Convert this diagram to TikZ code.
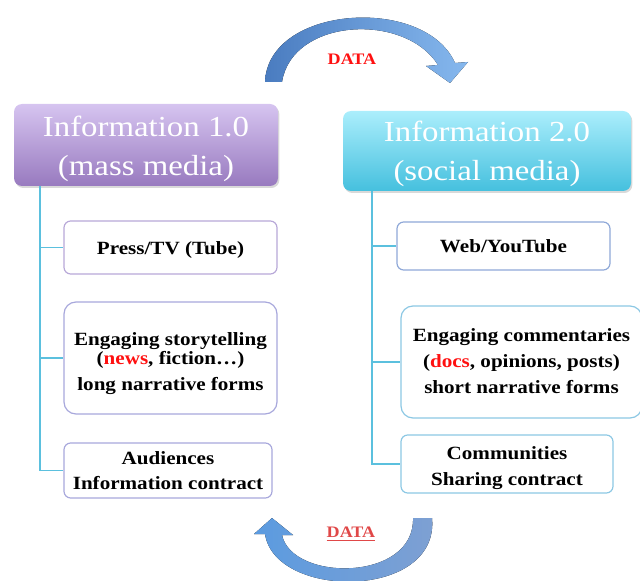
\documentclass[tikz,border=0pt]{standalone}
\usepackage{fontspec}
\setmainfont{Liberation Serif}[FakeStretch=1.13]
\usetikzlibrary{shadows}
\definecolor{lnk}{HTML}{5BC0DE}
\definecolor{purT}{HTML}{D6C4F0}
\definecolor{purB}{HTML}{987ABF}
\definecolor{cyaT}{HTML}{ABEEFC}
\definecolor{cyaB}{HTML}{45C0DE}
\definecolor{bdP}{HTML}{B8A8D8}
\definecolor{bdV}{HTML}{A8A8DC}
\definecolor{bdB}{HTML}{8FA8D8}
\definecolor{bdC}{HTML}{8CC8E4}
\definecolor{arrD}{HTML}{4A7CC0}
\definecolor{arrL}{HTML}{86B8EE}
\definecolor{arrM}{HTML}{5B9BE0}
\definecolor{arrR}{HTML}{7FA0D2}
\definecolor{hot}{HTML}{FF1010}
\definecolor{dat2}{HTML}{E04848}
\newcommand\lowtext[2]{\raisebox{-#1}[\height][\depth]{\begin{tabular}{@{}c@{}}#2\end{tabular}}}
\tikzset{
  header/.style={rounded corners=6pt, inner sep=0pt, text=white,
    font=\fontsize{21.8}{29.25}\selectfont,
    drop shadow={shadow xshift=1pt, shadow yshift=-1.5pt, opacity=.3}},
  item/.style={draw, fill=white, rounded corners=5pt, inner sep=0pt, line width=0.9pt,
    align=center, font=\fontsize{14}{19.5}\selectfont\bfseries},
  link/.style={draw=lnk, line width=0.9pt},
  datalbl/.style={font=\fontsize{12}{14}\selectfont\bfseries}
}
\begin{document}
\begin{tikzpicture}[x=0.75pt, y=-0.75pt]
\useasboundingbox (0,0) rectangle (640,581);

% top arc
\fill[left color=arrD, right color=arrL]
  (265,82) .. controls (268,5) and (425,-5) .. (455,63)
  -- (468,62) -- (450,83) -- (426,66) -- (438,65)
  .. controls (405,12) and (292,18) .. (282,82) -- cycle;
\node[datalbl, text=hot] (d1) at (352,59) {DATA};

% bottom arc
\fill[left color=arrM, right color=arrR]
  (432,518) .. controls (440,600) and (275,600) .. (265,534)
  -- (254,534) -- (272,518) -- (293,535) -- (282,535)
  .. controls (292,582) and (415,582) .. (413,518) -- cycle;
\node[datalbl, text=dat2] (d2) at (351,534) {\underline{DATA}};

% headers
\node[header, top color=purT, bottom color=purB, minimum width=198pt, minimum height=61.5pt]
  (hl) at (146,145) {\lowtext{2.5pt}{Information 1.0\\(mass media)}};
\node[header, top color=cyaT, bottom color=cyaB, minimum width=216pt, minimum height=60pt]
  (hr) at (487,151) {\lowtext{2pt}{Information 2.0\\(social media)}};

% left items
\node[item, draw=bdP, minimum width=159.75pt, minimum height=39.75pt] (l1) at (170.5,247.5)
  {\lowtext{1.5pt}{Press/TV (Tube)}};
\node[item, draw=bdV, rounded corners=9pt, minimum width=159.75pt, minimum height=84pt] (l2) at (170.5,358)
  {\lowtext{3.5pt}{Engaging storytelling\\[-5.25pt](\textcolor{hot}{news}, fiction…)\\long narrative forms}};
\node[item, draw=bdV, minimum width=156pt, minimum height=41.25pt] (l3) at (168,470.5)
  {\lowtext{1pt}{Audiences\\[-0.5pt]Information contract}};

% right items
\node[item, draw=bdB, minimum width=159.75pt, minimum height=36pt] (r1) at (503.5,246) {Web/YouTube};
\node[item, draw=bdC, rounded corners=9pt, minimum width=180.75pt, minimum height=84pt] (r2) at (521.5,362)
  {\lowtext{0.5pt}{Engaging commentaries\\(\textcolor{hot}{docs}, opinions, posts)\\short narrative forms}};
\node[item, draw=bdC, minimum width=159pt, minimum height=43.5pt] (r3) at (507,464)
  {\lowtext{2.5pt}{Communities\\Sharing contract}};

% connectors
\coordinate (lt) at (40,186);
\coordinate (rt) at (372,191);
\draw[link] (lt) |- (l3.west);
\draw[link] (lt |- l1.west) -- (l1.west);
\draw[link] (lt |- l2.west) -- (l2.west);
\draw[link] (rt) |- (r3.west);
\draw[link] (rt |- r1.west) -- (r1.west);
\draw[link] (rt |- r2.west) -- (r2.west);
\end{tikzpicture}
\end{document}
